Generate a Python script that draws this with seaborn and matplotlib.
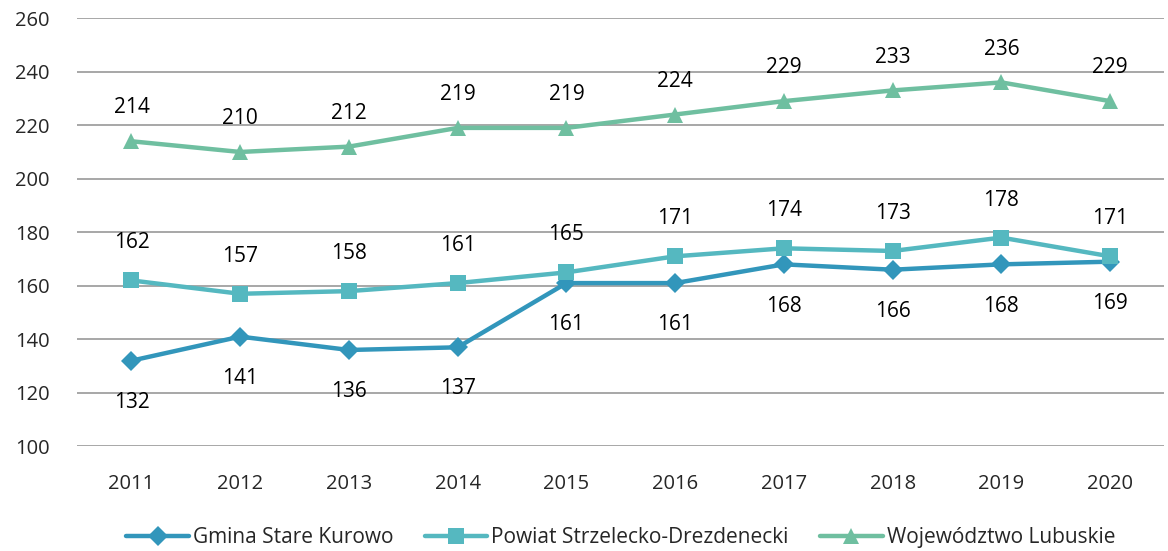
import pandas as pd
import numpy as np
import matplotlib.pyplot as plt
import seaborn as sns

YEARS = [2011, 2012, 2013, 2014, 2015, 2016, 2017, 2018, 2019, 2020]
GMINA = [132, 141, 136, 137, 161, 161, 168, 166, 168, 169]
POWIAT = [162, 157, 158, 161, 165, 171, 174, 173, 178, 171]
WOJ = [214, 210, 212, 219, 219, 224, 229, 233, 236, 229]

SERIES = [
    ("Gmina Stare Kurowo", GMINA, "#3296bb", "D", 10, -30),
    ("Powiat Strzelecko-Drezdenecki", POWIAT, "#55b8c0", "s", 11, 27),
    ("Województwo Lubuskie", WOJ, "#6fbfa0", "^", 12, 24),
]

sns.set_style("white")
plt.rcParams["font.family"] = ["Open Sans", "DejaVu Sans"]

fig, ax = plt.subplots(figsize=(11.68, 5.51), dpi=100)
fig.subplots_adjust(left=0.066, right=0.997, top=0.967, bottom=0.19)

for name, vals, color, marker, ms, off in SERIES:
    df = pd.DataFrame({"year": YEARS, "value": vals})
    sns.lineplot(data=df, x="year", y="value", ax=ax, color=color, linewidth=3.2,
                 marker=marker, markersize=ms, markeredgewidth=0, label=name, zorder=3)
    for x, y in zip(YEARS, vals):
        ax.annotate(str(y), (x, y), xytext=(0, off), textcoords="offset points",
                    ha="center", va="center", fontsize=15, color="black")

ax.set_xlim(2010.5, 2020.5)
ax.set_ylim(100, 260)
ax.set_yticks(range(100, 261, 20))
ax.set_xticks(YEARS)
ax.set_xticklabels([str(y) for y in YEARS])
ax.tick_params(axis="both", labelsize=14.5, length=0)
ax.tick_params(axis="x", pad=20)
ax.tick_params(axis="y", pad=20)
ax.grid(axis="y", color="#a0a0a0", linewidth=1.3)
ax.set_axisbelow(True)
for s in ax.spines.values():
    s.set_visible(False)
ax.set_xlabel("")
ax.set_ylabel("")

ax.legend(loc="upper center", bbox_to_anchor=(0.5, -0.145), ncol=3, frameon=False,
          fontsize=15, handlelength=3.0, handletextpad=0.2, columnspacing=1.5)

plt.savefig("out.png", dpi=100)
